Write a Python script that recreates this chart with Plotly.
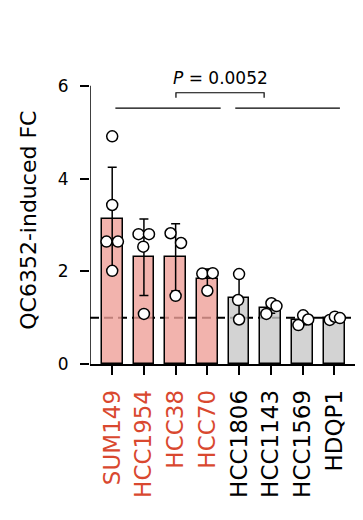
import numpy as np
import plotly.graph_objects as go

# ---- data ----
cell_lines = ["SUM149", "HCC1954", "HCC38", "HCC70", "HCC1806", "HCC1143", "HCC1569", "HDQP1"]
group = ["sens", "sens", "sens", "sens", "res", "res", "res", "res"]
replicates = [
    [4.91, 3.43, 2.64, 2.64, 2.01],
    [2.80, 2.80, 2.53, 1.08],
    [2.82, 2.61, 1.47],
    [1.95, 1.96, 1.58],
    [1.94, 1.38, 0.96],
    [1.08, 1.31, 1.25],
    [0.84, 1.05, 0.96],
    [0.95, 1.02, 0.99],
]
jitter = [
    [0.0, 0.0, -0.18, 0.18, 0.0],
    [-0.17, 0.16, -0.02, 0.0],
    [-0.16, 0.17, 0.0],
    [-0.16, 0.17, 0.0],
    [0.0, -0.03, 0.0],
    [-0.14, 0.02, 0.18],
    [-0.13, 0.02, 0.18],
    [-0.14, 0.02, 0.18],
]
yticks = [0, 2, 4, 6]
p_text = "<i>P</i> = 0.0052"

# ---- styles ----
FONT = "DejaVu Sans"
RED_TXT = "#D9482F"
fill = {"sens": "rgba(239,160,152,0.8)", "res": "rgba(200,200,200,0.8)"}

idx = list(range(len(cell_lines)))
means = [float(np.mean(r)) for r in replicates]
sds = [float(np.std(r, ddof=1)) for r in replicates]

fig = go.Figure()

fig.add_trace(go.Bar(
    x=idx, y=means, width=0.65,
    marker=dict(color=[fill[g] for g in group], line=dict(color="black", width=1.5)),
    error_y=dict(type="data", array=sds, visible=True, color="black", thickness=1.5, width=4.5),
    showlegend=False, hoverinfo="skip",
))

px_, py_ = [], []
for i, (vals, jit) in enumerate(zip(replicates, jitter)):
    for v, j in zip(vals, jit):
        px_.append(i + j)
        py_.append(v)
fig.add_trace(go.Scatter(
    x=px_, y=py_, mode="markers",
    marker=dict(size=11, color="white", line=dict(color="black", width=1.5)),
    showlegend=False, hoverinfo="skip", cliponaxis=False,
))

xmin, xmax = -0.70, 7.75
# dashed reference line (below bars)
fig.add_shape(type="line", x0=xmin, x1=xmax, y0=1, y1=1, xref="x", yref="y",
              line=dict(color="black", width=2, dash="9px,5px"), layer="below")
# y axis line 0..6
fig.add_shape(type="line", x0=xmin, x1=xmin, y0=0, y1=6, xref="x", yref="y",
              line=dict(color="black", width=1.5), layer="above")
# group lines
fig.add_shape(type="line", x0=0.1, x1=3.42, y0=5.52, y1=5.52, line=dict(color="black", width=1.2))
fig.add_shape(type="line", x0=3.88, x1=7.18, y0=5.52, y1=5.52, line=dict(color="black", width=1.2))
# bracket
fig.add_shape(type="path", path="M 2.01 5.74 L 2.01 5.85 L 4.79 5.85 L 4.79 5.74",
              line=dict(color="black", width=1.2))

fig.add_annotation(x=3.4, y=5.92, xref="x", yref="y", text=p_text, showarrow=False,
                   yanchor="bottom", xanchor="center", font=dict(family=FONT, size=17, color="black"))
fig.add_annotation(x=-(90 - 28.5) / 268, y=3.1, xref="paper", yref="y", text="QC6352-induced FC",
                   textangle=-90, showarrow=False, xanchor="center", yanchor="middle",
                   font=dict(family=FONT, size=22, color="black"))

ticktext = [f"<span style='color:{RED_TXT if g == 'sens' else 'black'}'>{c}</span>"
            for c, g in zip(cell_lines, group)]

# page body has an 8px default margin, so the figure is sized/offset to compensate
fig.update_layout(
    width=355, height=512,
    margin=dict(l=82, r=5, t=50, b=156, autoexpand=False),
    plot_bgcolor="white", paper_bgcolor="white",
    font=dict(family=FONT, color="black"),
    bargap=0,
    xaxis=dict(range=[xmin, xmax], tickvals=idx, ticktext=ticktext, tickangle=-90,
               showline=True, linecolor="black", linewidth=1.5, ticks="outside",
               ticklen=9, tickwidth=1.5, tickcolor="black", showgrid=False, zeroline=False,
               tickfont=dict(family=FONT, size=23), ticklabelstandoff=6, automargin=False),
    yaxis=dict(range=[0, 6.6], tickvals=yticks, showline=False, ticks="outside",
               ticklen=9, tickwidth=1.5, tickcolor="black", showgrid=False, zeroline=False,
               tickfont=dict(family=FONT, size=17), ticklabelstandoff=8, automargin=False),
)

fig.write_html("out.html")
